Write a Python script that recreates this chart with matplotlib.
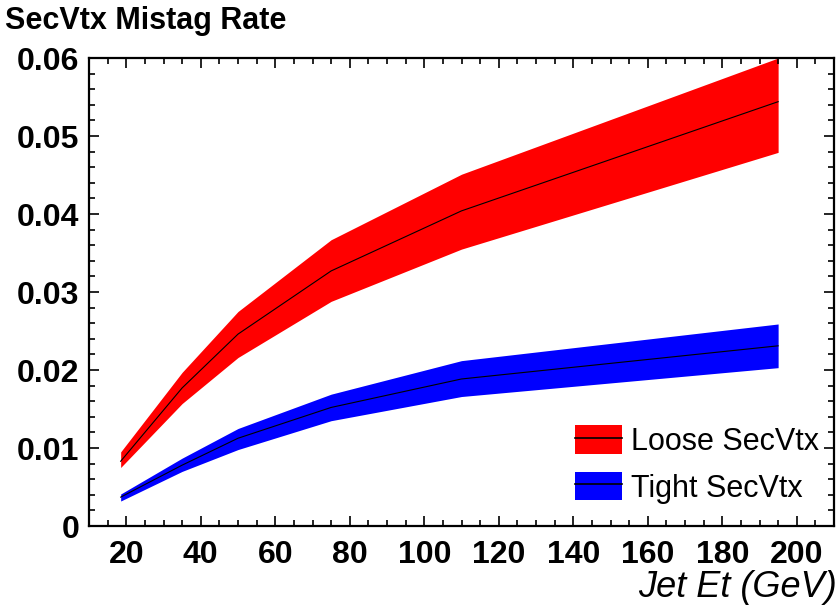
import numpy as np
import matplotlib
matplotlib.use("Agg")
import matplotlib.pyplot as plt
from matplotlib.patches import Patch
from matplotlib.lines import Line2D
from matplotlib.ticker import MultipleLocator, FixedLocator, FixedFormatter, FuncFormatter

plt.rcParams['font.family'] = ['Liberation Sans', 'DejaVu Sans']

# Jet Et (GeV)
jet_et = [18.5, 35, 50, 75, 110, 195]

# Loose SecVtx : central, upper, lower
loose_mid = [0.0083, 0.0177, 0.0246, 0.0327, 0.0404, 0.0544]
loose_hi = [0.0095, 0.0197, 0.0275, 0.0367, 0.0451, 0.0600]
loose_lo = [0.0075, 0.0157, 0.0216, 0.0288, 0.0355, 0.0479]

# Tight SecVtx
tight_mid = [0.0037, 0.0078, 0.01125, 0.0152, 0.01885, 0.0231]
tight_hi = [0.0041, 0.0087, 0.0125, 0.0169, 0.0212, 0.0259]
tight_lo = [0.0032, 0.0070, 0.0098, 0.0135, 0.0166, 0.0203]

y_ticks = [0, 0.01, 0.02, 0.03, 0.04, 0.05, 0.06]
y_labels = ['0', '0.01', '0.02', '0.03', '0.04', '0.05', '0.06']

fig = plt.figure(figsize=(8.39, 6.12), dpi=100)
ax = fig.add_axes([89 / 839, 86 / 612, 745 / 839, 468 / 612])

ax.fill_between(jet_et, loose_lo, loose_hi, color='#ff0000', lw=0)
ax.plot(jet_et, loose_mid, color='black', lw=0.8)
ax.fill_between(jet_et, tight_lo, tight_hi, color='#0000ff', lw=0)
ax.plot(jet_et, tight_mid, color='black', lw=0.8)

ax.set_xlim(10, 210)
ax.set_ylim(0, 0.06)
ax.xaxis.set_major_locator(MultipleLocator(20))
ax.xaxis.set_minor_locator(MultipleLocator(5))
ax.xaxis.set_major_formatter(FuncFormatter(lambda v, p: '%d' % v if v >= 20 else ''))
ax.yaxis.set_major_locator(FixedLocator(y_ticks))
ax.yaxis.set_major_formatter(FixedFormatter(y_labels))
ax.yaxis.set_minor_locator(MultipleLocator(0.002))
ax.tick_params(which='both', direction='in', top=True, right=True, width=1.2)
ax.tick_params(which='major', length=7)
ax.tick_params(which='minor', length=4)
ax.tick_params(axis='x', which='major', pad=10)
ax.tick_params(axis='y', which='major', pad=7)
for lab in ax.get_xticklabels() + ax.get_yticklabels():
    lab.set_fontsize(23)
    lab.set_fontweight('bold')
for sp in ax.spines.values():
    sp.set_linewidth(1.6)

handles = [(Patch(facecolor='#ff0000', lw=0), Line2D([], [], color='black', lw=1.2)),
           (Patch(facecolor='#0000ff', lw=0), Line2D([], [], color='black', lw=1.2))]
ax.legend(handles, ['Loose SecVtx', 'Tight SecVtx'], loc='lower right', frameon=False,
          fontsize=22, handlelength=1.55, handleheight=1.05, handletextpad=0.27,
          labelspacing=0.5, borderaxespad=0.3, bbox_to_anchor=(1.008, 0.002))

fig.text(0.006, 0.99, 'SecVtx Mistag Rate', fontsize=22, fontweight='bold', ha='left', va='top')
fig.text(0.997, 0.025, 'Jet Et (GeV)', fontsize=26, fontstyle='italic', ha='right', va='baseline')

fig.savefig('out.png', dpi=100)
